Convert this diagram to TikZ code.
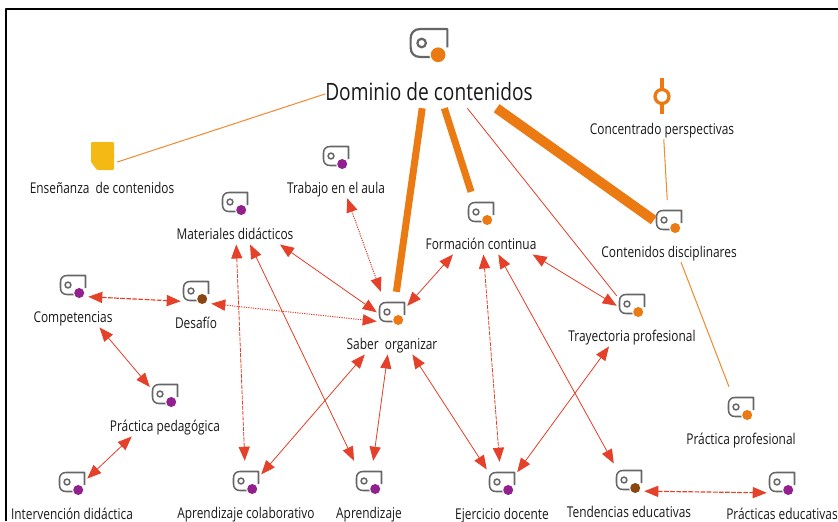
\documentclass[tikz,border=0pt]{standalone}
\usepackage{fontspec}
\setmainfont{Open Sans}[FakeStretch=0.8]
\usetikzlibrary{arrows.meta,fit}
\definecolor{naranja}{HTML}{EC7A12}
\definecolor{rojo}{HTML}{E5402A}
\definecolor{amarillo}{HTML}{F5B915}
\definecolor{morado}{HTML}{92208F}
\definecolor{cafe}{HTML}{8A4510}
\definecolor{gris}{HTML}{666666}
\tikzset{
  caja/.style={minimum width=0.9cm,minimum height=1.86cm,inner sep=0},
  ancho/.style={inner sep=0,inner xsep=1pt},
  etiqueta/.style={anchor=base,font=\fontsize{12.7}{14}\selectfont,text=black!90,inner sep=0},
  doble/.style={<->,rojo,line width=0.7pt},
  lleno/.style={solid},
  trazo/.style={dash pattern=on 3.5pt off 1pt},
  trazob/.style={dash pattern=on 4pt off 1.2pt,line width=1pt},
  punto/.style={dash pattern=on 1pt off 1pt,line width=0.9pt},
  fino/.style={naranja!85,line width=0.9pt},
  grueso/.style={naranja,line cap=butt},
  borde/.style={line width=1.3pt},
  cita/.pic={
    \draw[gris,borde] (12.5,3)--(12.5,-9.5)--(-6,-9.5) .. controls (-10,-9.5) and (-12.5,-7) .. (-12.5,-3)
      --(-12.5,3) .. controls (-12.5,7) and (-10,9.5) .. (-6,9.5)--(1,9.5);
    \draw[gris,borde] (-5,0) circle (2.9);
    \fill[white] (6.2,8) circle (6);
    \fill[#1] (6.2,8) circle (5);
  }
}
\begin{document}
\begin{tikzpicture}[x=0.03cm,y=-0.03cm,>={Triangle[length=12pt,width=9.5pt]},line join=round]
\useasboundingbox (0,0) rectangle (838,521);
\draw[line width=1.7pt] (6,521)--(6,9)--(838,9);
% Conceptos
\foreach \n/\x/\y/\col/\txt in {
  tra/336/156/morado/Trabajo en el aula,
  mat/235/202/morado/Materiales didácticos,
  for/481/212/naranja/Formación continua,
  con/669/220/naranja/Contenidos disciplinares,
  com/73/285/morado/Competencias,
  des/196/291/cafe/Desafío,
  sab/392/312/naranja/Saber\ \ organizar,
  pra/165/394/morado/Práctica pedagógica,
  int/72/482/morado/Intervención didáctica,
  cla/246/481/morado/Aprendizaje colaborativo,
  apr/369/481/morado/Aprendizaje,
  eje/502/482/morado/Ejercicio docente,
  ten/629/480/cafe/Tendencias educativas,
  pre/782/482/morado/Prácticas educativas,
  tri/632/304/naranja/Trayectoria profesional,
  pro/741/407/naranja/Práctica profesional}{
  \node[caja] (\n) at (\x,\y+11) {};
  \pic at (\x,\y) {cita=\col};
  \node[etiqueta] (\n-l) at (\x,\y+37) {\txt};
  \node[ancho,fit=(\n)(\n-l)] (\n-a) {};
}
% Dominio
\node[caja,minimum width=6.2cm,minimum height=2.88cm] (dom) at (429,60) {};
\pic[scale=1.47,borde/.style={line width=1.9pt}] at (429,43) {cita=naranja};
\node[anchor=base,inner sep=0,text=black!90,font=\fontsize{20.4}{23}\selectfont] (dom-l) at (429,100) {Dominio de contenidos};
% Comentario
\node[caja] (ens) at (102,167) {};
\fill[amarillo,rounded corners=1pt] (91,142)--(114,142)--(114,170)--(97,170)--(91,162)--cycle;
\node[etiqueta] (ens-l) at (102,193) {Enseñanza\ \ de contenidos};
% Red
\node[caja] (cen) at (662,108) {};
\draw[naranja,line width=2.8pt] (662,78)--(662,88) (662,105)--(662,114);
\draw[naranja,line width=2.8pt] (662,96.5) circle (7);
\node[etiqueta] (cen-l) at (662,134) {Concentrado perspectivas};
% Enlaces
\draw[fino] (dom)--(ens);
\draw[fino] (cen)--(con);
\draw[fino] (con)--(pro);
\draw[grueso,line width=6pt] (dom)--(sab);
\draw[grueso,line width=6pt] (dom)--(for);
\draw[grueso,line width=8.5pt] (dom)--(con);
\draw[rojo,line width=0.7pt] (dom)--(tri);
\foreach \a/\b/\e in {
  tra/sab/punto,
  mat-a/sab/lleno,
  mat-a/cla/trazo,
  mat-a/apr/lleno,
  com/des/trazob,
  des/sab/punto,
  com-a/pra/lleno,
  pra-a/int/lleno,
  sab-a/cla/lleno,
  sab-a/apr/lleno,
  sab-a/eje/lleno,
  sab/for-a/lleno,
  for-a/eje/trazo,
  for-a/ten/lleno,
  for-a/tri/lleno,
  tri-a/eje/lleno,
  ten/pre/trazob}{
  \draw[doble,\e] (\a)--(\b);
}
\end{tikzpicture}
\end{document}
